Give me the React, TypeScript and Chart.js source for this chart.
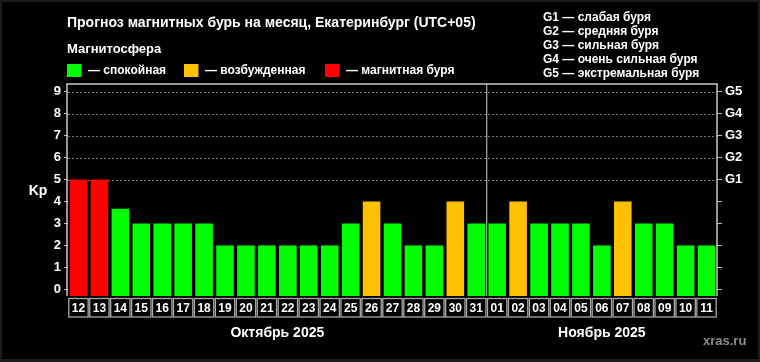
import React, { useEffect, useRef } from "react";
import { Chart, registerables } from "chart.js";

Chart.register(...registerables);

const days = [
  "12", "13", "14", "15", "16", "17", "18", "19", "20", "21", "22", "23", "24", "25", "26", "27", "28", "29", "30", "31",
  "01", "02", "03", "04", "05", "06", "07", "08", "09", "10", "11",
];
const kpValues = [
  5, 5, 3.67, 3, 3, 3, 3, 2, 2, 2, 2, 2, 2, 3, 4, 3, 2, 2, 4, 3,
  3, 4, 3, 3, 3, 2, 4, 3, 3, 2, 2,
];
const months = [
  { label: "Октябрь 2025", from: 0, to: 19 },
  { label: "Ноябрь 2025", from: 20, to: 30 },
];
const gLevels = ["G1", "G2", "G3", "G4", "G5"];
const gLegend = [
  "G1 — слабая буря",
  "G2 — средняя буря",
  "G3 — сильная буря",
  "G4 — очень сильная буря",
  "G5 — экстремальная буря",
];
const stateLegend = ["— спокойная", "— возбужденная", "— магнитная буря"];
const title = "Прогноз магнитных бурь на месяц, Екатеринбург (UTC+05)";

const GREEN = "#00ff00";
const ORANGE = "#ffc000";
const RED = "#ff0000";
const FONT = "'Liberation Sans', Arial, sans-serif";
const Y_MIN = -0.3;
const Y_MAX = 9.35;

const colorFor = (v: number) => (v >= 5 ? RED : v >= 4 ? ORANGE : GREEN);

const decorPlugin = {
  id: "decor",
  beforeDraw(chart: any) {
    const { ctx, width, height } = chart;
    ctx.save();
    ctx.fillStyle = "#1c1c1c";
    ctx.fillRect(0, 0, width, height);
    ctx.fillStyle = "#000";
    ctx.fillRect(2, 2, width - 4, height - 5);
    ctx.restore();
  },
  beforeDatasetsDraw(chart: any) {
    const { ctx, chartArea, scales } = chart;
    const y = scales.y;
    ctx.save();
    ctx.strokeStyle = "#7a7a7a";
    ctx.lineWidth = 1;
    ctx.setLineDash([2, 2]);
    for (let v = 5; v <= 9; v++) {
      const py = Math.round(y.getPixelForValue(v)) + 0.5;
      ctx.beginPath();
      ctx.moveTo(chartArea.left, py);
      ctx.lineTo(chartArea.right, py);
      ctx.stroke();
    }
    ctx.restore();
  },
  afterDraw(chart: any) {
    const { ctx, chartArea, scales } = chart;
    const x = scales.x;
    const step = x.getPixelForValue(1) - x.getPixelForValue(0);
    ctx.save();
    // frame
    ctx.strokeStyle = "#c8c8c8";
    ctx.lineWidth = 1.5;
    ctx.beginPath();
    ctx.moveTo(chartArea.left - 1, chartArea.bottom);
    ctx.lineTo(chartArea.left - 1, chartArea.top);
    ctx.lineTo(chartArea.right, chartArea.top);
    ctx.lineTo(chartArea.right, chartArea.bottom);
    ctx.stroke();
    // month separator
    ctx.strokeStyle = "#b0b0b0";
    ctx.lineWidth = 1.2;
    const sep = (x.getPixelForValue(19) + x.getPixelForValue(20)) / 2;
    ctx.beginPath();
    ctx.moveTo(sep, chartArea.top);
    ctx.lineTo(sep, chartArea.bottom);
    ctx.stroke();
    // label boxes
    ctx.strokeStyle = "#a8a8a8";
    ctx.lineWidth = 1.3;
    for (let i = 0; i < days.length; i++) {
      const cx = x.getPixelForValue(i);
      ctx.strokeRect(cx - step / 2 + 0.8, chartArea.bottom + 2.5, step - 1.6, 18.5);
    }
    // month labels
    ctx.fillStyle = "#fff";
    ctx.font = `bold 14px ${FONT}`;
    ctx.textAlign = "center";
    ctx.textBaseline = "middle";
    months.forEach((m) => {
      const c = (x.getPixelForValue(m.from) + x.getPixelForValue(m.to)) / 2;
      ctx.fillText(m.label, c, 333);
    });
    // Kp
    ctx.font = `bold 14px ${FONT}`;
    ctx.fillText("Kp", 38, (chartArea.top + chartArea.bottom) / 2 + 1);
    // watermark
    ctx.fillStyle = "#8c8c8c";
    ctx.font = `bold 13px ${FONT}`;
    ctx.textAlign = "left";
    ctx.fillText("xras.ru", 703, 341);
    // title
    ctx.fillStyle = "#fff";
    ctx.font = `bold 14px ${FONT}`;
    ctx.fillText(title, 67, 23);
    ctx.font = `bold 13px ${FONT}`;
    ctx.fillText("Магнитосфера", 67, 49);
    // state legend
    ctx.font = `bold 12px ${FONT}`;
    const boxX = [67, 184, 325];
    const cols = [GREEN, ORANGE, RED];
    stateLegend.forEach((t, i) => {
      ctx.fillStyle = cols[i];
      ctx.fillRect(boxX[i], 64, 14.5, 13);
      ctx.fillStyle = "#fff";
      ctx.fillText(t, boxX[i] + 21, 71);
    });
    // G legend
    ctx.font = `bold 12px ${FONT}`;
    gLegend.forEach((t, i) => {
      ctx.fillText(t, 543, 17.5 + i * 14);
    });
    ctx.restore();
  },
};

export default function App() {
  const ref = useRef<HTMLCanvasElement | null>(null);
  useEffect(() => {
    document.body.style.margin = "0";
    document.body.style.background = "#000";
    if (!ref.current) return;
    const tickVals = [0, 1, 2, 3, 4, 5, 6, 7, 8, 9];
    const chart = new Chart(ref.current, {
      type: "bar",
      data: {
        labels: days,
        datasets: [
          {
            data: kpValues,
            backgroundColor: kpValues.map(colorFor),
            borderWidth: 0,
            base: Y_MIN,
            barPercentage: 0.84,
            categoryPercentage: 1,
          } as any,
        ],
      },
      plugins: [decorPlugin],
      options: {
        animation: false,
        responsive: false,
        maintainAspectRatio: false,
        events: [],
        layout: { padding: { top: 84, left: 0, right: 0, bottom: 0 } },
        plugins: {
          legend: { display: false },
          tooltip: { enabled: false },
          title: { display: false },
        },
        scales: {
          x: {
            type: "category",
            offset: true,
            grid: { display: false, drawTicks: false },
            border: { display: false },
            ticks: {
              color: "#fff",
              font: { family: FONT, size: 12, weight: "bold" },
              padding: 5,
              maxRotation: 0,
              autoSkip: false,
            },
            afterFit: (s: any) => {
              s.height = 66;
            },
          },
          y: {
            type: "linear",
            position: "left",
            min: Y_MIN,
            max: Y_MAX,
            afterBuildTicks: (s: any) => {
              s.ticks = tickVals.map((v) => ({ value: v }));
            },
            grid: {
              drawOnChartArea: false,
              drawTicks: true,
              tickLength: 4,
              tickColor: "#bdbdbd",
              tickWidth: 1,
            },
            border: { display: false },
            ticks: {
              color: "#fff",
              padding: 3,
              font: { family: FONT, size: 13, weight: "bold" },
            },
            afterFit: (s: any) => {
              s.width = 68;
            },
          },
          y2: {
            type: "linear",
            position: "right",
            min: Y_MIN,
            max: Y_MAX,
            afterBuildTicks: (s: any) => {
              s.ticks = tickVals.map((v) => ({ value: v }));
            },
            grid: {
              drawOnChartArea: false,
              drawTicks: true,
              tickLength: 5,
              tickColor: "#bdbdbd",
              tickWidth: 1,
            },
            border: { display: false },
            ticks: {
              color: "#fff",
              padding: 3,
              font: { family: FONT, size: 13, weight: "bold" },
              callback: (v: any) => (v >= 5 ? gLevels[v - 5] : ""),
            },
            afterFit: (s: any) => {
              s.width = 43;
            },
          },
        },
      } as any,
    });
    return () => chart.destroy();
  }, []);
  return (
    <div style={{ width: 760, height: 362 }}>
      <canvas ref={ref} width={760} height={362} style={{ display: "block" }} />
    </div>
  );
}
